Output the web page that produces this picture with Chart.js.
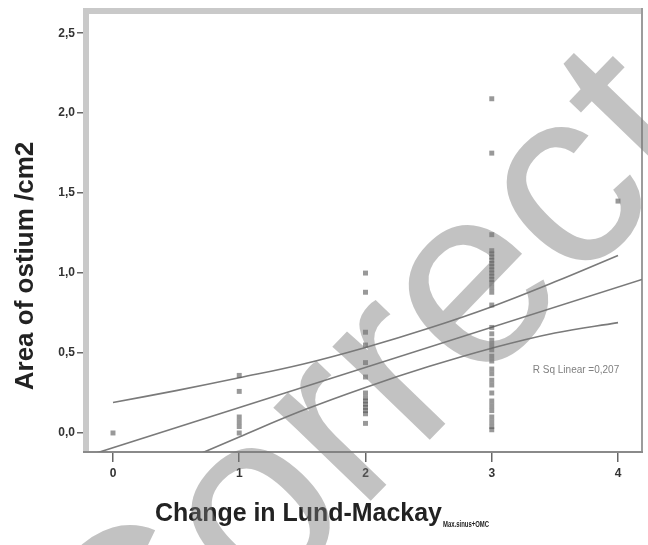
<!DOCTYPE html>
<html>
<head>
<meta charset="utf-8">
<script src="https://cdn.jsdelivr.net/npm/chart.js@4/dist/chart.umd.min.js"></script>
<style>
html,body{margin:0;padding:0;background:#fff;}
#wrap{width:648px;height:545px;position:relative;}
</style>
</head>
<body>
<div id="wrap"><canvas id="c" width="648" height="545"></canvas></div>
<script>
// ---- data ----
const changeLM0 = [0.0];
const changeLM1 = [0.36, 0.26, 0.10, 0.07, 0.04, 0.0];
const changeLM2 = [1.0, 0.88, 0.63, 0.55, 0.44, 0.35, 0.25, 0.22, 0.20, 0.18, 0.16, 0.14, 0.12, 0.06];
const changeLM3 = [2.09, 1.75, 1.24, 1.14, 1.12, 1.10, 1.08, 1.06, 1.04, 1.02, 1.00, 0.98, 0.96, 0.94, 0.91, 0.88,
                   0.80, 0.66, 0.62, 0.58, 0.55, 0.52, 0.48, 0.45, 0.40, 0.37, 0.33, 0.30, 0.25, 0.20, 0.17, 0.14, 0.10, 0.07, 0.04, 0.02];
const changeLM4 = [1.45];
const groupX = [0, 1, 2, 3, 4];

const fitX = [-0.19, 4.19];
const fitY = [-0.14, 0.96];
const ciX = [0, 0.5, 1, 1.5, 2, 2.5, 3, 3.5, 4];
const ciUpper = [0.19, 0.265, 0.345, 0.43, 0.535, 0.655, 0.79, 0.945, 1.11];
const ciLower = [-0.37, -0.195, -0.025, 0.14, 0.285, 0.415, 0.53, 0.625, 0.69];

const xTickValues = [0, 1, 2, 3, 4];
const xTickLabels = ['0', '1', '2', '3', '4'];
const yTickValues = [0, 0.5, 1.0, 1.5, 2.0, 2.5];
const yTickLabels = ['0,0', '0,5', '1,0', '1,5', '2,0', '2,5'];

const xTitle = 'Change in Lund-Mackay';
const xTitleSub = 'Max.sinus+OMC';
const yTitle = 'Area of ostium /cm2';
const rsqText = 'R Sq Linear =0,207';
const watermark = 'Correct';
// ---------------------------------------

const groups = [changeLM0, changeLM1, changeLM2, changeLM3, changeLM4];
const points = [];
groups.forEach((vals, i) => vals.forEach(v => points.push({x: groupX[i], y: v})));
const fitPts = fitX.map((x, i) => ({x, y: fitY[i]}));
const upPts = ciX.map((x, i) => ({x, y: ciUpper[i]}));
const loPts = ciX.map((x, i) => ({x, y: ciLower[i]}));

const FONT = '"Liberation Sans", Arial, sans-serif';

const decor = {
  id: 'decor',
  beforeDatasetsDraw(chart) {
    const ctx = chart.ctx, a = chart.chartArea;
    ctx.save();
    ctx.fillStyle = '#c9c9c9';
    ctx.fillRect(a.left - 6, a.top - 6, 6, a.bottom - a.top + 6);
    ctx.fillRect(a.left - 6, a.top - 6, a.right - a.left + 6, 6);
    ctx.fillStyle = '#9c9c9c';
    ctx.fillRect(a.right - 1, a.top - 6, 2, a.bottom - a.top + 6);
    ctx.fillStyle = '#8a8a8a';
    ctx.fillRect(a.left - 6, a.bottom - 1, a.right - a.left + 7, 2);
    ctx.restore();
  },
  afterDraw(chart) {
    const ctx = chart.ctx;
    ctx.save();
    // R squared annotation
    ctx.font = '10px ' + FONT;
    ctx.fillStyle = '#808080';
    ctx.textAlign = 'center';
    ctx.textBaseline = 'middle';
    ctx.fillText(rsqText, 576, 370, 93);
    // x title with subscript
    ctx.textAlign = 'left';
    ctx.textBaseline = 'alphabetic';
    ctx.fillStyle = '#222';
    ctx.font = 'bold 25px ' + FONT;
    ctx.fillText(xTitle, 155, 521, 287);
    ctx.font = 'bold 9px ' + FONT;
    ctx.fillText(xTitleSub, 443, 527, 46);
    // y title
    ctx.save();
    ctx.translate(33, 266);
    ctx.rotate(-Math.PI / 2);
    ctx.textAlign = 'center';
    ctx.font = 'bold 26px ' + FONT;
    ctx.fillText(yTitle, 0, 0, 252);
    ctx.restore();
    // watermark
    ctx.save();
    ctx.translate(132, 748);
    ctx.rotate(-46 * Math.PI / 180);
    ctx.font = '255px ' + FONT;
    ctx.fillStyle = 'rgba(120,120,120,0.45)';
    ctx.textAlign = 'left';
    ctx.fillText(watermark, 0, 0);
    ctx.restore();
    ctx.restore();
  }
};

const lineStyle = {
  type: 'line', showLine: true, fill: false, pointRadius: 0,
  borderColor: '#7a7a7a', borderWidth: 1.6, tension: 0.4
};

new Chart(document.getElementById('c'), {
  type: 'scatter',
  data: {
    datasets: [
      {label: 'Area', data: points, pointStyle: 'rect', pointRadius: 3.5,
       backgroundColor: 'rgba(85,85,85,0.6)', borderWidth: 0, showLine: false},
      Object.assign({label: 'Fit', data: fitPts}, lineStyle, {tension: 0}),
      Object.assign({label: 'Upper', data: upPts}, lineStyle),
      Object.assign({label: 'Lower', data: loPts}, lineStyle)
    ]
  },
  options: {
    responsive: false,
    animation: false,
    devicePixelRatio: 1,
    layout: {padding: {left: 0, right: 6, top: 14, bottom: 0}},
    plugins: {legend: {display: false}, tooltip: {enabled: false}},
    scales: {
      x: {
        type: 'linear', min: -0.19, max: 4.19,
        afterBuildTicks: s => { s.ticks = xTickValues.map(v => ({value: v})); },
        afterFit: s => { s.height = 93; },
        ticks: {
          autoSkip: false, padding: 4, color: '#333',
          font: {family: FONT, size: 12, weight: 'bold'},
          callback: v => xTickLabels[xTickValues.indexOf(v)] ?? ''
        },
        grid: {drawOnChartArea: false, drawTicks: true, tickLength: 10, color: '#666', lineWidth: 1.5},
        border: {display: false}
      },
      y: {
        type: 'linear', min: -0.119, max: 2.62,
        afterBuildTicks: s => { s.ticks = yTickValues.map(v => ({value: v})); },
        afterFit: s => { s.width = 89; },
        ticks: {
          autoSkip: false, padding: 2, color: '#333',
          font: {family: FONT, size: 12, weight: 'bold'},
          callback: v => yTickLabels[yTickValues.indexOf(v)] ?? ''
        },
        grid: {drawOnChartArea: false, drawTicks: true, tickLength: 12, color: '#666', lineWidth: 1.5},
        border: {display: false}
      }
    }
  },
  plugins: [decor]
});
</script>
</body>
</html>
